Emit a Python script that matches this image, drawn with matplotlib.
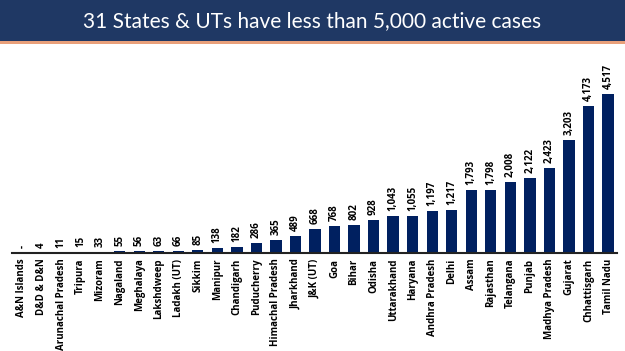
import matplotlib
matplotlib.use("Agg")
import matplotlib.pyplot as plt
from matplotlib.patches import Rectangle

states = ["A&N Islands", "D&D & D&N", "Arunachal Pradesh", "Tripura", "Mizoram", "Nagaland",
          "Meghalaya", "Lakshdweep", "Ladakh (UT)", "Sikkim", "Manipur", "Chandigarh",
          "Puducherry", "Himachal Pradesh", "Jharkhand", "J&K (UT)", "Goa", "Bihar", "Odisha",
          "Uttarakhand", "Haryana", "Andhra Pradesh", "Delhi", "Assam", "Rajasthan",
          "Telangana", "Punjab", "Madhya Pradesh", "Gujarat", "Chhattisgarh", "Tamil Nadu"]
active = [0, 4, 11, 15, 33, 55, 56, 63, 66, 85, 138, 182, 286, 365, 489, 668, 768, 802, 928,
          1043, 1055, 1197, 1217, 1793, 1798, 2008, 2122, 2423, 3203, 4173, 4517]
title = "31 States & UTs have less than 5,000 active cases"

W, H = 625, 351
fig = plt.figure(figsize=(W / 100, H / 100), dpi=100)
fig.patch.set_facecolor("white")

# title band
fig.patches.append(Rectangle((0, 1 - 41 / H), 1, 41 / H, transform=fig.transFigure,
                             facecolor="#1F3864", edgecolor="none", zorder=0))
fig.patches.append(Rectangle((0, 1 - 44 / H), 1, 2.5 / H, transform=fig.transFigure,
                             facecolor="#E9A07A", edgecolor="none", zorder=0))
fig.text(0.5, 1 - 21 / H, title, color="white", fontsize=15, ha="center", va="center",
         family="Lato")

ax = fig.add_axes([12 / W, (H - 253) / H, (617 - 12) / W, (253 - 50) / H])
x = list(range(len(states)))
ax.bar(x, active, width=0.58, color="#002060")
ymax = 203 * 4517 / 159
ax.set_ylim(0, ymax)
ax.set_xlim(-0.51, 30.46)
for s in ["top", "right", "left"]:
    ax.spines[s].set_visible(False)
ax.spines["bottom"].set_linewidth(1.5)
ax.spines["bottom"].set_color("#222222")
ax.set_yticks([])
ax.set_xticks(x)
ax.set_xticklabels(states, rotation=90, fontsize=7, fontweight="bold", family="Open Sans")
ax.tick_params(axis="x", length=0, pad=4)
off = ymax * 0.025
for xi, v in zip(x, active):
    lab = "-" if v == 0 else f"{v:,}"
    ax.text(xi, v + off, lab, rotation=90, ha="center", va="bottom", fontsize=7,
            fontweight="bold", family="Open Sans")

fig.savefig("out.png", dpi=100)
